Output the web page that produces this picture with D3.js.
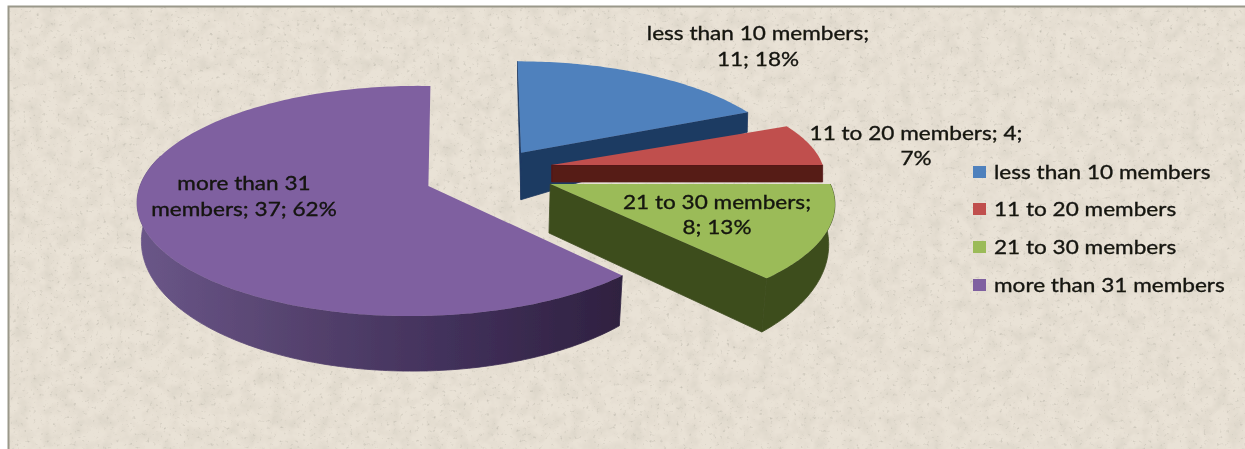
<!DOCTYPE html>
<html><head><meta charset="utf-8">
<script src="https://cdn.jsdelivr.net/npm/d3@7/dist/d3.min.js"></script>
<style>html,body{margin:0;padding:0;background:#fff}svg{display:block}</style>
</head><body><div id="c"></div>
<script>
// Data
const categories = ["less than 10 members","11 to 20 members","21 to 30 members","more than 31 members"];
const counts = [11,4,8,37];
const percents = [18,7,13,62];
const colors = ["#4f81bd","#c0504d","#9bbb59","#7f60a0"];
const wallColors = ["#1f3a62","#561a18","#3e4d1f","#2f2140"];
const labelLines = [
  ["less than 10 members;","11; 18%"],
  ["11 to 20 members; 4;","7%"],
  ["21 to 30 members;","8; 13%"],
  ["more than 31","members; 37; 62%"]
];
// Layout of the exploded perspective pie
const W=1245,H=449, center=[490,172];
const pullX=[57,63,66,66], pullY=[23,34,29.5,39];
const radX=[266,271,280,274], radY=[106,100,110,113];
const persp=[.16,.13,.18,.13], perspSide=[0,0,0,.05], lean=[-4,0,0,2.3];
const rimDepth=[20,17,36,36], rimGrow=[0,0,.66,.53], apexDepth=[47,17,49,36], inset=[.002,0,.022,.015];
const labelPos=[[758,33],[916,133],[717,202],[244,183]], lineGap=[26,25,25,26];
const legendX=973, legendY=[172,209,247,285];
const textStretch=1.13;

const svg=d3.select("#c").append("svg").attr("width",W).attr("height",H);
const defs=svg.append("defs");
const tex=defs.append("filter").attr("id","tex").attr("x",0).attr("y",0).attr("width","100%").attr("height","100%");
tex.append("feTurbulence").attr("type","fractalNoise").attr("baseFrequency",.07).attr("numOctaves",3).attr("seed",4).attr("result","n1");
tex.append("feColorMatrix").attr("in","n1").attr("type","matrix")
  .attr("values","0 0 0 0 .62  0 0 0 0 .58  0 0 0 0 .50  .9 0 0 0 -.33").attr("result","mott");
tex.append("feTurbulence").attr("type","fractalNoise").attr("baseFrequency",.3).attr("numOctaves",2).attr("seed",11).attr("result","n2");
tex.append("feColorMatrix").attr("in","n2").attr("type","matrix")
  .attr("values","0 0 0 0 .55  0 0 0 0 .52  0 0 0 0 .45  3.2 0 0 0 -2.05").attr("result","sp");
tex.append("feGaussianBlur").attr("in","sp").attr("stdDeviation",.7).attr("result","sb");
tex.append("feMerge").selectAll("feMergeNode").data(["SourceGraphic","mott","sb"]).join("feMergeNode").attr("in",d=>d);
defs.append("filter").attr("id","soft").append("feGaussianBlur").attr("stdDeviation",.55);
defs.append("filter").attr("id","softT").append("feGaussianBlur").attr("stdDeviation",.4);
const grad=defs.append("linearGradient").attr("id","rim").attr("gradientUnits","userSpaceOnUse")
  .attr("x1",140).attr("x2",622).attr("y1",0).attr("y2",0);
[[0,"#6a5688"],[.3,"#574470"],[.65,"#41305a"],[1,"#2f2140"]].forEach(s=>grad.append("stop").attr("offset",s[0]).attr("stop-color",s[1]));

svg.append("rect").attr("x",8).attr("y",6).attr("width",W-8).attr("height",H-6).attr("fill","#e9e2d6").attr("filter","url(#tex)");
svg.append("path").attr("d",`M8.5 ${H}V6.5H${W}`).attr("fill","none").attr("stroke","#9a988a").attr("stroke-width",2);

const arcs=d3.pie().sort(null).value(d=>d).startAngle(0).endAngle(2*Math.PI)(counts);
const lineGen=d3.line();
const deg=Math.PI/180;

function apex(i){
  const mid=(arcs[i].startAngle+arcs[i].endAngle)/2;
  return [center[0]+pullX[i]*Math.sin(mid), center[1]-pullY[i]*Math.cos(mid)];
}
function topPt(i,a){
  const [ax,ay]=apex(i), s=1/(1+persp[i]*Math.cos(a)+perspSide[i]*Math.sin(a));
  return [ax+(radX[i]*Math.sin(a)+lean[i]*Math.cos(a))*s, ay-radY[i]*Math.cos(a)*s];
}
function bottomPt(i,a){
  const [ax]=apex(i), p=topPt(i,a);
  return [ax+(p[0]-ax)*(1-inset[i]), p[1]+rimDepth[i]*(1-rimGrow[i]*Math.cos(a))];
}
function samples(a0,a1){const n=Math.max(2,Math.ceil(Math.abs(a1-a0)/deg));return d3.range(n+1).map(k=>a0+(a1-a0)*k/n);}

const pie=svg.append("g").attr("filter","url(#soft)");
function wall(i,a,g){
  const [ax,ay]=apex(i), t=topPt(i,a), b=bottomPt(i,a);
  const ab=[ax-inset[i]*60, ay+apexDepth[i]];
  g.append("path").attr("d",lineGen([[ax,ay],t,b,ab])+"Z").attr("fill",wallColors[i]).attr("stroke",wallColors[i]).attr("stroke-width",.8);
}
function rim(i,a0,a1,g,fill){
  const as=samples(a0,a1);
  g.append("path").attr("d",lineGen(as.map(a=>topPt(i,a)).concat(as.slice().reverse().map(a=>bottomPt(i,a))))+"Z").attr("fill",fill).attr("stroke",fill).attr("stroke-width",.8);
}
function face(i,g){
  const [ax,ay]=apex(i), as=samples(arcs[i].startAngle,arcs[i].endAngle);
  g.append("path").attr("d",lineGen([[ax,ay]].concat(as.map(a=>topPt(i,a))))+"Z").attr("fill",colors[i]);
}
// Blue
wall(0,arcs[0].startAngle,pie); wall(0,arcs[0].endAngle,pie); face(0,pie);
// Red
wall(1,arcs[1].endAngle,pie); face(1,pie);
// Purple
rim(3,arcs[3].startAngle,285*deg,pie,"url(#rim)"); face(3,pie);
// Green
wall(2,arcs[2].endAngle,pie); rim(2,arcs[2].startAngle,arcs[2].endAngle,pie,wallColors[2]); face(2,pie);

const font='Lato, "Open Sans", sans-serif';
const txt=svg.append("g").attr("filter","url(#softT)").attr("font-family",font).attr("font-size",20).attr("fill","#14140f").attr("stroke","#14140f").attr("stroke-width",.35);
labelLines.forEach((ls,i)=>ls.forEach((l,j)=>{
  txt.append("text").attr("transform",`translate(${labelPos[i][0]},${labelPos[i][1]+j*lineGap[i]}) scale(${textStretch},1)`).attr("dy","0.35em").attr("text-anchor","middle").text(l);
}));
categories.forEach((c,i)=>{
  txt.append("rect").attr("x",legendX).attr("y",legendY[i]-6).attr("width",13).attr("height",12).attr("fill",colors[i]).attr("stroke","none");
  txt.append("text").attr("transform",`translate(${legendX+21},${legendY[i]}) scale(${textStretch},1)`).attr("dy","0.35em").text(c);
});
</script></body></html>
